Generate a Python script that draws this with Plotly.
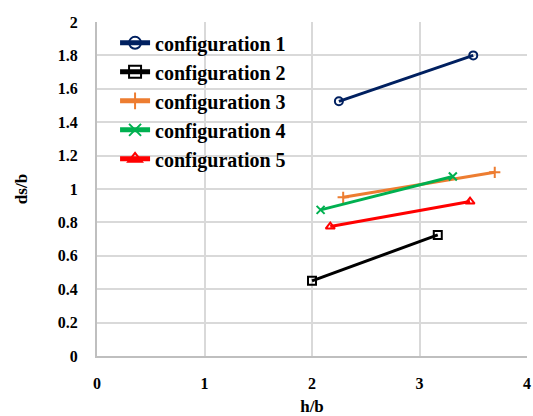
import plotly.graph_objects as go

names = ["configuration 1", "configuration 2", "configuration 3", "configuration 4", "configuration 5"]
x_vals = [[2.25, 3.5], [2.0, 3.17], [2.29, 3.7], [2.08, 3.31], [2.17, 3.47]]
y_vals = [[1.525, 1.8], [0.45, 0.725], [0.95, 1.1], [0.875, 1.075], [0.775, 0.925]]
colors = ["#002060", "#000000", "#ED7D31", "#00B050", "#FF0000"]
symbols = ["circle-open", "square-open", "cross-thin-open", "x-thin-open", "triangle-up-open"]

font_family = "Liberation Serif"

fig = go.Figure()
for n, xs, ys, c, s in zip(names, x_vals, y_vals, colors, symbols):
    fig.add_trace(go.Scatter(
        x=xs, y=ys, name=n, mode="lines+markers",
        line=dict(color=c, width=3),
        marker=dict(symbol=s, size=8, color=c, line=dict(color=c, width=2)),
    ))

fig.update_layout(
    width=533, height=416,
    margin=dict(l=97, r=6, t=22, b=59.5),
    paper_bgcolor="white", plot_bgcolor="white",
    font=dict(family=font_family, size=16, color="black"),
    showlegend=True,
    legend=dict(x=0.042, y=0.996, xanchor="left", yanchor="top",
                bgcolor="rgba(0,0,0,0)",
                font=dict(family=font_family, size=20, color="black", weight="bold"),
                tracegroupgap=0, itemsizing="constant"),
    xaxis=dict(range=[0, 4], dtick=1, tickformat="d", automargin=False,
               showgrid=True, gridcolor="#d9d9d9", gridwidth=2,
               showline=True, linecolor="#bfbfbf", linewidth=2, mirror=False,
               zeroline=False, ticks="", ticklabelstandoff=12,
               tickfont=dict(family=font_family, size=16, weight="bold"),
               title=dict(text="<b>h/b</b>", font=dict(family=font_family, size=17), standoff=14)),
    yaxis=dict(range=[0, 2], dtick=0.2, automargin=False,
               showgrid=True, gridcolor="#d9d9d9", gridwidth=2,
               showline=True, linecolor="#bfbfbf", linewidth=2,
               zeroline=False, ticks="", ticklabelstandoff=14,
               tickfont=dict(family=font_family, size=16, weight="bold"),
               title=dict(text="<b>ds/b</b>", font=dict(family=font_family, size=17), standoff=26)),
)

# remove the page's default body margin so the 533x416 figure fills the window exactly
fig.write_html("out.html",
               config={"displayModeBar": False},
               post_script="document.body.style.margin='0';document.body.style.overflow='hidden';")
